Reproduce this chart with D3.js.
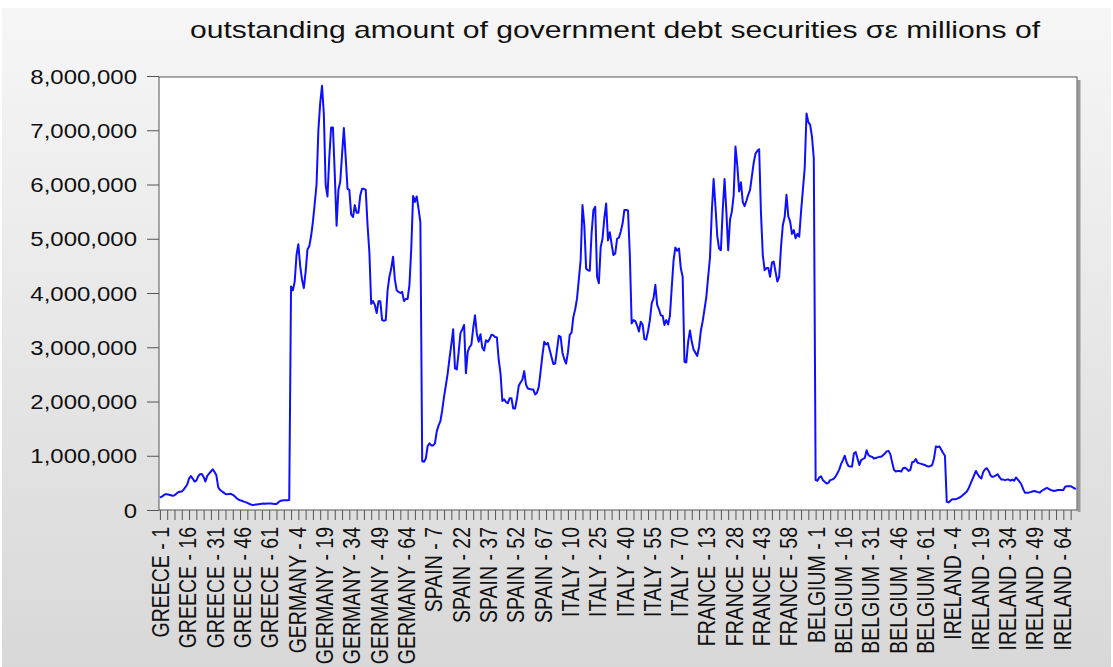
<!DOCTYPE html>
<html><head><meta charset="utf-8">
<script src="https://cdn.jsdelivr.net/npm/d3@7"></script>
<style>html,body{margin:0;padding:0;background:#fff;} svg{display:block;font-family:"Liberation Sans",Arial,sans-serif;}</style>
</head><body><svg id="c" width="1113" height="667"></svg>
<script>
const titleText = "outstanding amount of government debt securities σε millions of";
const countries = ["GREECE","GERMANY","SPAIN","ITALY","FRANCE","BELGIUM","IRELAND"];
const greece = [227e3,245e3,270e3,292e3,290e3,282e3,272e3,262e3,270e3,300e3,
 326e3,335e3,340e3,375e3,420e3,470e3,580e3,625e3,580e3,525e3,
 540e3,620e3,660e3,665e3,610e3,525e3,630e3,670e3,710e3,750e3,
 700e3,640e3,420e3,370e3,345e3,320e3,295e3,290e3,295e3,298e3,
 280e3,255e3,220e3,195e3,180e3,170e3,155e3,145e3,130e3,115e3,
 100e3,90e3,95e3,100e3,105e3,110e3,115e3,120e3,115e3,120e3,
 118e3,120e3,115e3,110e3,110e3,140e3,165e3,175e3,180e3,180e3,
 180e3,185e3];
const germany = [4120e3,4050e3,4210e3,4700e3,4900e3,4500e3,4250e3,4090e3,4390e3,4800e3,
 4860e3,5050e3,5310e3,5650e3,6000e3,7000e3,7500e3,7820e3,7300e3,5990e3,
 5780e3,6500e3,7050e3,7050e3,6200e3,5240e3,5900e3,6050e3,6550e3,7040e3,
 6500e3,5920e3,5900e3,5450e3,5400e3,5620e3,5480e3,5480e3,5800e3,5920e3,
 5920e3,5900e3,5250e3,4750e3,3800e3,3850e3,3780e3,3630e3,3850e3,3850e3,
 3500e3,3490e3,3500e3,4050e3,4300e3,4450e3,4670e3,4250e3,4050e3,4020e3,
 4000e3,4020e3,3850e3,3890e3,3890e3,4150e3,4820e3,5790e3,5680e3,5780e3,
 5550e3,5300e3];
const spain = [900e3,890e3,950e3,1180e3,1230e3,1190e3,1190e3,1230e3,1450e3,1560e3,
 1640e3,1840e3,2090e3,2300e3,2520e3,2800e3,3050e3,3330e3,2610e3,2590e3,
 2900e3,3260e3,3330e3,3410e3,2520e3,2920e3,3000e3,3050e3,3350e3,3590e3,
 3250e3,3100e3,3240e3,2990e3,2940e3,3130e3,3100e3,3150e3,3230e3,3220e3,
 3190e3,3180e3,2770e3,2520e3,2010e3,2040e3,1990e3,1970e3,2060e3,2060e3,
 1870e3,1870e3,2050e3,2290e3,2350e3,2400e3,2560e3,2310e3,2240e3,2230e3,
 2220e3,2220e3,2130e3,2160e3,2270e3,2550e3,2850e3,3100e3,3050e3,3080e3,
 2950e3,2820e3];
const italy = [2690e3,2700e3,2950e3,3210e3,3190e3,2900e3,2780e3,2700e3,2900e3,3230e3,
 3270e3,3560e3,3700e3,3900e3,4250e3,4610e3,5620e3,5250e3,4450e3,4420e3,
 4410e3,5100e3,5530e3,5590e3,4300e3,4180e3,4850e3,5000e3,5380e3,5650e3,
 4970e3,5120e3,4900e3,4700e3,4730e3,5000e3,5020e3,5130e3,5280e3,5530e3,
 5530e3,5520e3,4700e3,3440e3,3500e3,3480e3,3400e3,3290e3,3470e3,3420e3,
 3150e3,3140e3,3300e3,3500e3,3810e3,3900e3,4150e3,3780e3,3700e3,3590e3,
 3580e3,3410e3,3500e3,3420e3,3580e3,4100e3,4600e3,4840e3,4780e3,4820e3,
 4450e3,4300e3];
const france = [2730e3,2720e3,3100e3,3310e3,3100e3,2960e3,2900e3,2840e3,3010e3,3310e3,
 3480e3,3700e3,3930e3,4300e3,4650e3,5500e3,6100e3,5600e3,5050e3,4820e3,
 4790e3,5530e3,6100e3,5500e3,4790e3,5350e3,5500e3,5800e3,6700e3,6350e3,
 5870e3,6040e3,5680e3,5600e3,5700e3,5810e3,5900e3,6150e3,6400e3,6570e3,
 6620e3,6650e3,5470e3,4700e3,4420e3,4460e3,4460e3,4300e3,4560e3,4580e3,
 4390e3,4210e3,4300e3,4850e3,5250e3,5400e3,5810e3,5410e3,5320e3,5090e3,
 5160e3,5010e3,5090e3,5040e3,5500e3,5900e3,6300e3,7310e3,7150e3,7100e3,
 6880e3,6480e3];
const belgium = [550e3,540e3,600e3,620e3,550e3,520e3,490e3,500e3,550e3,560e3,
 580e3,620e3,680e3,750e3,850e3,920e3,1000e3,880e3,810e3,800e3,
 800e3,1040e3,1070e3,950e3,830e3,920e3,940e3,960e3,1100e3,1010e3,
 990e3,980e3,950e3,960e3,970e3,980e3,980e3,1010e3,1040e3,1080e3,
 1090e3,1030e3,880e3,740e3,710e3,720e3,720e3,710e3,770e3,780e3,
 760e3,720e3,740e3,880e3,890e3,940e3,870e3,860e3,850e3,840e3,
 830e3,810e3,800e3,810e3,830e3,950e3,1170e3,1160e3,1170e3,1110e3,
 1050e3,1000e3];
const ireland = [150e3,140e3,170e3,200e3,200e3,200e3,215e3,230e3,250e3,280e3,
 310e3,340e3,400e3,480e3,560e3,640e3,720e3,660e3,610e3,580e3,
 700e3,750e3,770e3,720e3,640e3,610e3,620e3,640e3,660e3,600e3,
 560e3,560e3,550e3,560e3,560e3,540e3,560e3,540e3,600e3,560e3,
 520e3,470e3,380e3,320e3,320e3,320e3,330e3,340e3,350e3,340e3,
 330e3,320e3,350e3,370e3,390e3,410e3,390e3,370e3,360e3,350e3,
 360e3,370e3,370e3,370e3,370e3,430e3,440e3,440e3,440e3,420e3,
 400e3,390e3];
const yTickValues = [0,1e6,2e6,3e6,4e6,5e6,6e6,7e6,8e6];
const xTickLabels = ["GREECE - 1","GREECE - 16","GREECE - 31","GREECE - 46","GREECE - 61",
 "GERMANY - 4","GERMANY - 19","GERMANY - 34","GERMANY - 49","GERMANY - 64",
 "SPAIN - 7","SPAIN - 22","SPAIN - 37","SPAIN - 52","SPAIN - 67",
 "ITALY - 10","ITALY - 25","ITALY - 40","ITALY - 55","ITALY - 70",
 "FRANCE - 13","FRANCE - 28","FRANCE - 43","FRANCE - 58",
 "BELGIUM - 1","BELGIUM - 16","BELGIUM - 31","BELGIUM - 46","BELGIUM - 61",
 "IRELAND - 4","IRELAND - 19","IRELAND - 34","IRELAND - 49","IRELAND - 64"];

const series = [greece, germany, spain, italy, france, belgium, ireland];
const categories = [], values = [];
countries.forEach((c, ci) => series[ci].forEach((v, i) => { categories.push(c + " - " + (i + 1)); values.push(v); }));

const svg = d3.select("#c");
const SX = 1.23;
const L = 159, R = 1077, T = 77, B = 510;

const defs = svg.append("defs");
const g = defs.append("linearGradient").attr("id","bg").attr("x1",0).attr("y1",0).attr("x2",0).attr("y2",1);
g.append("stop").attr("offset","0%").attr("stop-color","#f6f6f6");
g.append("stop").attr("offset","100%").attr("stop-color","#d8d8d8");
svg.append("rect").attr("x",2).attr("y",8).attr("width",1109).attr("height",659).attr("fill","url(#bg)");

const x = d3.scalePoint().domain(categories).range([L, R]).padding(0.5);
const y = d3.scaleLinear().domain([0, 8e6]).range([B, 76]);

// plot area
svg.append("line").attr("x1",R+2).attr("x2",R+2).attr("y1",T+3).attr("y2",B+2).attr("stroke","#9a9a9a").attr("stroke-width",3);
svg.append("rect").attr("x",L).attr("y",T).attr("width",R-L).attr("height",B-T).attr("fill","#fff").attr("stroke","#555").attr("stroke-width",1);

// title
svg.append("text").attr("transform",`translate(${(L+R)/2 - 3},38)`).attr("text-anchor","middle")
  .attr("font-size",24).attr("textLength",850).attr("lengthAdjust","spacingAndGlyphs").attr("fill","#111").text(titleText);

// y axis
const yAxis = svg.append("g").attr("transform",`translate(${L},0)`)
  .call(d3.axisLeft(y).tickValues(yTickValues).tickSize(12).tickFormat(d3.format(",")));
yAxis.select(".domain").remove();
yAxis.selectAll("line").attr("stroke","#555");
yAxis.selectAll("text").attr("x", -22 / SX).attr("dy","0.36em").attr("transform",`scale(${SX},1)`)
  .attr("font-size",19.5).attr("font-family","Liberation Sans, Arial, sans-serif").attr("fill","#111");

// x minor ticks
const minor = categories.filter((d, i) => i % 4 === 0);
const xMinor = svg.append("g").attr("transform",`translate(0,${B})`)
  .call(d3.axisBottom(x).tickValues(minor).tickSize(10).tickFormat(""));
xMinor.select(".domain").remove();
xMinor.selectAll("line").attr("stroke","#555");

// x labels
const xAxis = svg.append("g").attr("transform",`translate(0,${B})`)
  .call(d3.axisBottom(x).tickValues(xTickLabels).tickSize(0));
xAxis.select(".domain").remove();
xAxis.selectAll("text").attr("x",0).attr("y",0).attr("dy","0.36em").attr("text-anchor","end")
  .attr("transform",`translate(0,17) scale(${SX},1) rotate(-90)`)
  .attr("font-size",19.5).attr("font-family","Liberation Sans, Arial, sans-serif").attr("fill","#111");

// line
const line = d3.line().x((d, i) => x(categories[i])).y(d => y(d));
svg.append("path").datum(values).attr("d", line).attr("fill","none").attr("stroke","#0f0fff").attr("stroke-width",2).attr("stroke-linejoin","round");
</script></body></html>
